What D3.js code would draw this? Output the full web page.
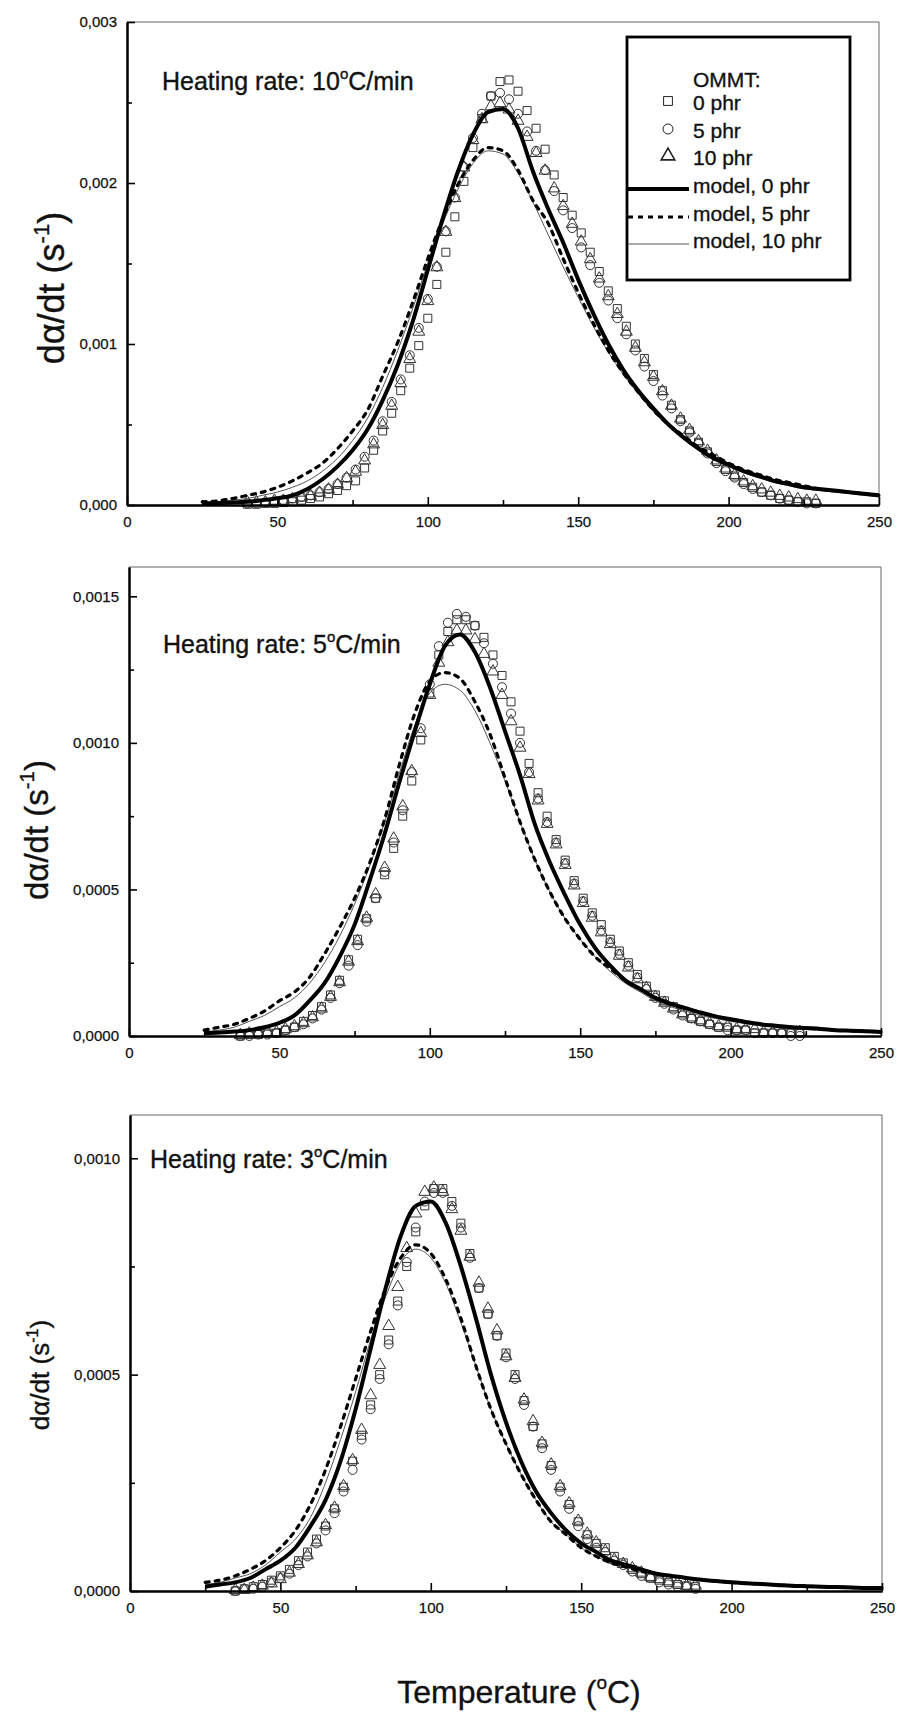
<!DOCTYPE html>
<html><head><meta charset="utf-8">
<script src="https://cdnjs.cloudflare.com/ajax/libs/d3/7.8.5/d3.min.js"></script>
<style>
body{margin:0;background:#fff}
svg{display:block}
text{font-family:"Liberation Sans",Arial,sans-serif;fill:#111}
</style>
</head><body>
<svg id="c" width="898" height="1713"></svg>
<script>
// ---------- DATA ----------
const seriesNames = ["0 phr", "5 phr", "10 phr"];
const modelNames = ["model, 0 phr", "model, 5 phr", "model, 10 phr"];
const heatingRates = ["10", "5", "3"];

const modelT = [25,30,35,40,45,50,55,60,65,70,75,80,85,90,95,100,105,110,115,120,125,130,135,140,145,150,155,160,165,170,175,180,185,190,195,200,205,210,215,220,225,230,235,240,245,250];

// Panel 1: 10 °C/min
const p1Model0 = [.00001,.000012,.000016,.00002,.00003,.000042,.00006,.0001,.00016,.00024,.00034,.00047,.00065,.00087,.00114,.00146,.00178,.00207,.0023,.00244,.00246,.00234,.00207,.00184,.00163,.0014,.00119,.001,.00084,.00071,.0006,.0005,.00042,.00035,.00029,.00025,.00021,.00018,.00015,.00013,.00011,.0001,.00009,.00008,.00007,.00006];
const p1Model5 = [.00002,.000025,.00004,.00006,.00008,.00011,.00015,.0002,.00026,.00035,.00046,.00059,.0008,.00101,.00126,.00153,.00178,.00199,.00214,.00222,.0022,.00208,.00189,.00175,.00153,.00132,.00113,.00096,.00082,.0007,.00059,.0005,.00043,.00036,.00031,.00026,.00022,.00019,.00016,.00014,.00012,.0001,.00009,.00008,.00007,.00006];
const p1Model10 = [.000015,.00002,.00003,.00004,.00006,.00008,.00011,.00015,.00021,.00029,.0004,.00054,.00073,.00096,.00122,.0015,.00175,.00196,.00212,.0022,.00218,.00206,.00188,.00168,.00148,.00129,.00111,.00095,.00081,.00069,.00058,.00049,.00041,.00034,.00029,.00024,.0002,.00017,.00014,.00012,.0001,.00009,.00008,.00007,.00006,.00005];

const p1T = [40,43,46,49,52,55,58,61,64,67,70,73,76,79,82,85,88,91,94,97,100,103,106,109,112,115,118,121,124,127,130,133,136,139,142,145,148,151,154,157,160,163,166,169,172,175,178,181,184,187,190,193,196,199,202,205,208,211,214,217,220,223,226,229];
const p1Sq = [.000005,.000005,.00001,.00001,.000015,.00002,.00003,.00004,.00005,.00007,.00009,.00012,.00015,.00023,.00034,.00046,.00057,.00071,.00085,.00099,.00116,.00137,.00157,.00179,.00201,.00222,.0024,.00254,.00263,.00264,.00257,.00245,.00234,.00221,.00205,.00191,.0018,.00169,.00157,.00145,.00133,.00122,.00111,.001,.00091,.00081,.00071,.00062,.00053,.00046,.00039,.00033,.00027,.00022,.00018,.00014,.00011,.00008,.00006,.00004,.00003,.00002,.00002,.00001];
const p1Ci = [.00001,.00001,.000015,.00002,.00003,.00004,.00005,.00006,.00008,.0001,.00013,.00017,.00022,.0003,.0004,.00052,.00064,.00078,.00093,.0011,.00128,.00148,.0017,.00191,.0021,.00228,.00243,.00254,.00256,.00252,.00243,.00232,.0022,.00208,.00195,.00183,.00172,.0016,.00149,.00138,.00127,.00116,.00106,.00096,.00086,.00077,.00068,.0006,.00052,.00045,.00038,.00032,.00026,.00021,.00017,.00013,.0001,.00008,.00006,.00004,.00003,.00002,.00001,.00001];
const p1Tr = [.00001,.00001,.00001,.00002,.00002,.00003,.00004,.00005,.00007,.00009,.00012,.00016,.0002,.00027,.00037,.00049,.00061,.00075,.0009,.00107,.00126,.00147,.00169,.0019,.00209,.00226,.00239,.00247,.00249,.00245,.00238,.00228,.00218,.00207,.00196,.00185,.00174,.00163,.00152,.0014,.00129,.00118,.00107,.00097,.00088,.00079,.0007,.00061,.00053,.00046,.00039,.00033,.00027,.00022,.00018,.00014,.00011,.00009,.00007,.00005,.00004,.00003,.00002,.00002];

// Panel 2: 5 °C/min
const p2Model0 = [.00001,.000012,.000015,.00002,.00003,.000045,.00007,.00012,.00018,.00027,.00038,.00053,.00069,.00087,.00104,.0012,.00133,.00137,.00131,.00119,.00104,.00089,.00072,.00059,.00048,.00038,.0003,.00024,.00019,.00016,.00013,.00011,.000095,.00008,.000067,.000057,.000048,.00004,.000035,.00003,.000027,.000024,.00002,.000018,.000016,.000014];
const p2Model5 = [.00002,.00003,.00004,.00006,.000085,.00012,.00015,.0002,.00028,.00037,.00047,.00059,.00074,.00093,.0011,.00121,.00124,.00122,.00114,.00103,.00088,.00073,.0006,.00049,.0004,.00033,.00027,.00023,.00019,.00016,.00013,.00011,.000095,.00008,.000067,.000057,.000048,.00004,.000035,.00003,.000027,.000024,.00002,.000018,.000016,.000014];
const p2Model10 = [.000015,.00002,.00003,.00005,.00007,.0001,.00013,.00018,.00025,.00034,.00045,.00058,.00073,.0009,.00106,.00117,.0012,.00118,.00111,.001,.00087,.00073,.0006,.00049,.0004,.00033,.00027,.00022,.00018,.00015,.00012,.0001,.000085,.00007,.00006,.00005,.000042,.000035,.00003,.000026,.000022,.00002,.000017,.000015,.000013,.000012];

const p2T = [37,40,43,46,49,52,55,58,61,64,67,70,73,76,79,82,85,88,91,94,97,100,103,106,109,112,115,118,121,124,127,130,133,136,139,142,145,148,151,154,157,160,163,166,169,172,175,178,181,184,187,190,193,196,199,202,205,208,211,214,217,220,223];
const p2Sq = [0,.000005,.000005,.00001,.00001,.00002,.00003,.00005,.00007,.0001,.00014,.00019,.00026,.00033,.0004,.00047,.00055,.00064,.00075,.00087,.00101,.00117,.0013,.00138,.00142,.00142,.0014,.00136,.0013,.00123,.00114,.00104,.00093,.00083,.00075,.00067,.0006,.00053,.00047,.00042,.00038,.00033,.00029,.00025,.00021,.00017,.00014,.00012,.0001,.00008,.00006,.00005,.00004,.00003,.00003,.00002,.00002,.00001,.00001,.00001,.00001,.00001,.00001];
const p2Ci = [0,0,.000005,.000005,.00001,.00002,.00003,.00004,.00006,.00009,.00013,.00018,.00024,.00031,.00039,.00047,.00056,.00066,.00077,.0009,.00105,.0012,.00133,.00141,.00144,.00143,.0014,.00134,.00127,.00119,.0011,.001,.0009,.00081,.00073,.00066,.00059,.00052,.00046,.00041,.00036,.00032,.00028,.00024,.0002,.00016,.00013,.00011,.00009,.00007,.00006,.00005,.00004,.00003,.00002,.00002,.00002,.00001,.00001,.00001,.00001,0,0];
const p2Tr = [0,.000005,.000005,.00001,.00001,.00002,.00003,.00004,.00006,.00009,.00013,.00018,.00025,.00032,.0004,.00048,.00057,.00067,.00078,.0009,.00103,.00116,.00127,.00134,.00138,.00138,.00135,.0013,.00124,.00116,.00107,.00098,.00089,.0008,.00072,.00065,.00058,.00051,.00045,.0004,.00035,.00031,.00027,.00023,.00019,.00016,.00013,.00011,.00009,.00007,.00006,.00005,.00004,.00003,.00003,.00002,.00002,.00002,.00001,.00001,.00001,.00001,.00001];

// Panel 3: 3 °C/min
const p3Model0 = [.00001,.000015,.00002,.00003,.00005,.00007,.0001,.00015,.00021,.0003,.00042,.00056,.0007,.00082,.00089,.0009,.00085,.00075,.00063,.0005,.00039,.0003,.00023,.00018,.00014,.00011,.00009,.00007,.00006,.00005,.00004,.000035,.00003,.000026,.000023,.00002,.000018,.000016,.000014,.000012,.000011,.00001,.000009,.000008,.000007,.000007];
const p3Model5 = [.00002,.000025,.000035,.00005,.00007,.0001,.00014,.0002,.00028,.00038,.00049,.0006,.0007,.00077,.0008,.00078,.00072,.00063,.00052,.00042,.00034,.00027,.00021,.00016,.00013,.0001,.00008,.000065,.000055,.000045,.00004,.000034,.00003,.000026,.000023,.00002,.000018,.000016,.000014,.000012,.000011,.00001,.000009,.000008,.000007,.000007];
const p3Model10 = [.000015,.00002,.00003,.00004,.00006,.00009,.00012,.00017,.00025,.00035,.00046,.00058,.00068,.00076,.00079,.00077,.00071,.00062,.00052,.00042,.00034,.00027,.00021,.00016,.00013,.0001,.00008,.000065,.000055,.000045,.00004,.000034,.00003,.000026,.000023,.00002,.000018,.000016,.000014,.000012,.000011,.00001,.000009,.000008,.000007,.000007];

const p3T = [35,38,41,44,47,50,53,56,59,62,65,68,71,74,77,80,83,86,89,92,95,98,101,104,107,110,113,116,119,122,125,128,131,134,137,140,143,146,149,152,155,158,161,164,167,170,173,176,179,182,185,188];
const p3Sq = [0,.000005,.00001,.000015,.000025,.000035,.00005,.00007,.00009,.00012,.00015,.00019,.00024,.0003,.00036,.00043,.0005,.00058,.00067,.00075,.00083,.00089,.00093,.00093,.0009,.00085,.00078,.0007,.00064,.00059,.00055,.0005,.00044,.00038,.00034,.00029,.00024,.0002,.00016,.00013,.00011,.0001,.00008,.000065,.00005,.00004,.00003,.000025,.00002,.000015,.000012,.00001];
const p3Ci = [0,.000005,.000005,.00001,.00002,.00003,.00004,.00006,.00008,.00011,.00014,.00018,.00023,.00028,.00035,.00042,.00049,.00057,.00066,.00076,.00084,.0009,.00092,.00092,.00089,.00084,.00077,.0007,.00064,.00059,.00054,.00049,.00043,.00038,.00033,.00028,.00023,.00019,.00015,.00012,.0001,.00009,.00007,.00006,.000045,.000035,.00003,.00002,.000015,.00001,.00001,.000005];
const p3Tr = [0,0,.000005,.00001,.000015,.000025,.00004,.00006,.00008,.00011,.00015,.00019,.00024,.0003,.00037,.00045,.00052,.00061,.0007,.00079,.00087,.00092,.00093,.00092,.00088,.00083,.00077,.00071,.00065,.0006,.00054,.00049,.00044,.00039,.00034,.00029,.00024,.0002,.00016,.00013,.00011,.00009,.00007,.00006,.00005,.00004,.00003,.000025,.00002,.000015,.00001,.00001];

const xTicksMajor = [0,50,100,150,200,250];
const xTicksMinor = [25,75,125,175,225];
const p1YTicks = [0,0.001,0.002,0.003];
const p1YMinor = [0.0005,0.0015,0.0025];
const p2YTicks = [0,0.0005,0.001,0.0015];
const p2YMinor = [0.00025,0.00075,0.00125];
const p3YTicks = [0,0.0005,0.001];
const p3YMinor = [0.00025,0.00075];

// ---------- LAYOUT ----------
const panels = [
  {left:127,right:879,top:22,bottom:505,yMax:0.003,yTicks:p1YTicks,yMinor:p1YMinor,dec:3,
   rate:heatingRates[0],rateX:162,rateY:90,titleX:64,titleY:288,titleSize:36,
   mT:modelT,m:[p1Model0,p1Model5,p1Model10],dT:p1T,d:[p1Sq,p1Ci,p1Tr],legend:true},
  {left:129,right:881,top:567,bottom:1036,yMax:0.0016,yTicks:p2YTicks,yMinor:p2YMinor,dec:4,
   rate:heatingRates[1],rateX:163,rateY:653,titleX:48,titleY:830,titleSize:33,
   mT:modelT,m:[p2Model0,p2Model5,p2Model10],dT:p2T,d:[p2Sq,p2Ci,p2Tr],legend:false},
  {left:130,right:882,top:1115,bottom:1591,yMax:0.0011,yTicks:p3YTicks,yMinor:p3YMinor,dec:4,
   rate:heatingRates[2],rateX:150,rateY:1168,titleX:49,titleY:1375,titleSize:26,
   mT:modelT,m:[p3Model0,p3Model5,p3Model10],dT:p3T,d:[p3Sq,p3Ci,p3Tr],legend:false}
];

const locale = d3.formatLocale({decimal:",",thousands:".",grouping:[3],currency:["",""]});
const svg = d3.select("#c");

const symbols = [d3.symbolSquare, d3.symbolCircle, d3.symbolTriangle];
const symSizes = [64, 64, 62];
const lineStyles = [
  {w:4, dash:null, color:"#000"},
  {w:3.2, dash:"4,6", color:"#000"},
  {w:1, dash:null, color:"#555"}
];
const textStroke = 0.35;

panels.forEach(p => {
  const x = d3.scaleLinear().domain([0,250]).range([p.left,p.right]);
  const y = d3.scaleLinear().domain([0,p.yMax]).range([p.bottom,p.top]);
  const g = svg.append("g");

  // frame top/right (thin)
  g.append("line").attr("x1",p.left).attr("x2",p.right).attr("y1",p.top).attr("y2",p.top)
    .attr("stroke","#666").attr("stroke-width",1);
  g.append("line").attr("x1",p.right).attr("x2",p.right).attr("y1",p.top).attr("y2",p.bottom)
    .attr("stroke","#666").attr("stroke-width",1);

  // markers
  p.d.forEach((vals,si) => {
    const sym = d3.symbol().type(symbols[si]).size(symSizes[si]);
    g.append("g").selectAll("path").data(vals.map((v,i)=>[p.dT[i],v])).join("path")
      .attr("d", sym)
      .attr("transform", d => `translate(${x(d[0])},${y(d[1]) - (si===2?1:0)})`)
      .attr("fill","none").attr("stroke","#333").attr("stroke-width",1);
  });

  // model lines
  const line = d3.line().x(d=>x(d[0])).y(d=>y(d[1])).curve(d3.curveMonotoneX);
  [2,1,0].forEach(mi => {
    const st = lineStyles[mi];
    g.append("path").datum(p.m[mi].map((v,i)=>[p.mT[i],v]))
      .attr("d", line).attr("fill","none")
      .attr("stroke", st.color).attr("stroke-width", st.w)
      .attr("stroke-dasharray", st.dash)
      .attr("stroke-linecap", mi===1 ? "round" : "butt");
  });

  // axes
  const fmt = locale.format("." + p.dec + "f");
  const yAx = g.append("g").attr("transform",`translate(${p.left},0)`)
    .call(d3.axisLeft(y).tickValues(p.yTicks).tickFormat(fmt).tickSize(-8).tickSizeOuter(0).tickPadding(10));
  const yAxMinor = g.append("g").attr("transform",`translate(${p.left},0)`)
    .call(d3.axisLeft(y).tickValues(p.yMinor).tickFormat("").tickSize(-5).tickSizeOuter(0));
  const xAx = g.append("g").attr("transform",`translate(0,${p.bottom})`)
    .call(d3.axisBottom(x).tickValues(xTicksMajor).tickSize(-8).tickSizeOuter(0).tickPadding(11));
  const xAxMinor = g.append("g").attr("transform",`translate(0,${p.bottom})`)
    .call(d3.axisBottom(x).tickValues(xTicksMinor).tickFormat("").tickSize(-5).tickSizeOuter(0));
  [yAx,yAxMinor,xAx,xAxMinor].forEach(a => {
    a.select(".domain").attr("stroke","#000").attr("stroke-width",2);
    a.selectAll(".tick line").attr("stroke","#000").attr("stroke-width",1.6);
    a.selectAll(".tick text").attr("font-size",15).attr("font-family","Liberation Sans, Arial, sans-serif")
      .attr("fill","#111").attr("stroke","#111").attr("stroke-width",0.25);
  });

  // heating rate label
  const ht = g.append("text").attr("x",p.rateX).attr("y",p.rateY).attr("font-size",25)
    .attr("stroke","#111").attr("stroke-width",textStroke);
  ht.append("tspan").text("Heating rate: " + p.rate);
  ht.append("tspan").text("o").attr("font-size",15).attr("dy",-11);
  ht.append("tspan").text("C/min").attr("font-size",25).attr("dy",11);

  // y title
  const yt = g.append("text").attr("transform",`translate(${p.titleX},${p.titleY}) rotate(-90)`)
    .attr("text-anchor","middle").attr("font-size",p.titleSize)
    .attr("stroke","#111").attr("stroke-width",textStroke);
  yt.append("tspan").text("d\u03b1/dt (s");
  yt.append("tspan").text("-1").attr("font-size",p.titleSize*0.62).attr("dy",-p.titleSize*0.42);
  yt.append("tspan").text(")").attr("font-size",p.titleSize).attr("dy",p.titleSize*0.42);

  // legend
  if (p.legend) {
    const L = g.append("g");
    L.append("rect").attr("x",627).attr("y",37).attr("width",223).attr("height",243)
      .attr("fill","#fff").attr("stroke","#000").attr("stroke-width",2.8);
    L.append("text").attr("x",693).attr("y",87).attr("font-size",21)
      .attr("stroke","#111").attr("stroke-width",textStroke).text("OMMT:");
    const rowY = [110,138,165,193,221,248];
    seriesNames.forEach((nm,i) => {
      L.append("path").attr("d", d3.symbol().type(symbols[i]).size(i===2?80:78)())
        .attr("transform",`translate(668,${rowY[i]-9})`)
        .attr("fill","none").attr("stroke","#222").attr("stroke-width",i===2?1.6:1);
      L.append("text").attr("x",693).attr("y",rowY[i]).attr("font-size",21)
        .attr("stroke","#111").attr("stroke-width",textStroke).text(nm);
    });
    modelNames.forEach((nm,i) => {
      const st = lineStyles[i];
      const yy = rowY[i+3]-4;
      L.append("line").attr("x1",628).attr("x2",689).attr("y1",yy).attr("y2",yy)
        .attr("stroke",st.color).attr("stroke-width",st.w).attr("stroke-dasharray",st.dash ? "5,5" : null);
      L.append("text").attr("x",693).attr("y",rowY[i+3]).attr("font-size",21)
        .attr("stroke","#111").attr("stroke-width",textStroke).text(nm);
    });
  }
});

// x title
const xt = svg.append("text").attr("x",519).attr("y",1703).attr("text-anchor","middle").attr("font-size",32)
  .attr("stroke","#111").attr("stroke-width",textStroke);
xt.append("tspan").text("Temperature (");
xt.append("tspan").text("o").attr("font-size",19).attr("dy",-14);
xt.append("tspan").text("C)").attr("font-size",32).attr("dy",14);
</script>
</body></html>
